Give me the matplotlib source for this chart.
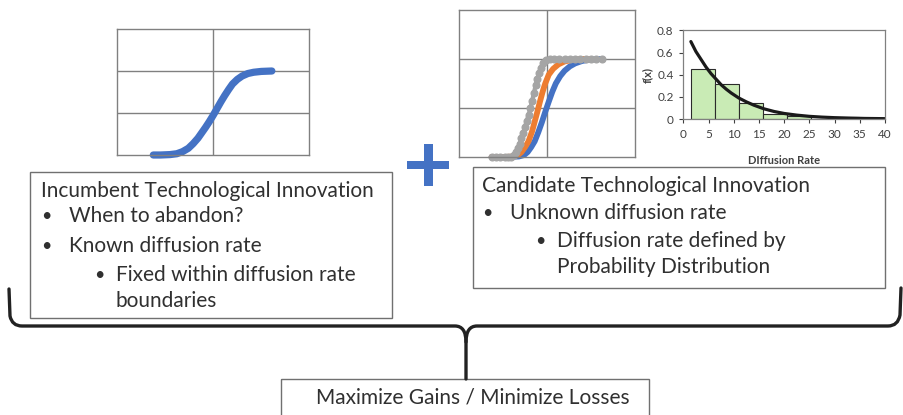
import matplotlib
matplotlib.use("Agg")
import matplotlib.pyplot as plt
from matplotlib.patches import Rectangle, PathPatch
from matplotlib.path import Path

plt.rcParams['font.family'] = ['Lato', 'DejaVu Sans']

W, H = 904, 415

# Incumbent S-curve (left chart), axis units: x 0..2, y 0..3
inc_x = [0.375, 0.45, 0.55, 0.62, 0.68, 0.74, 0.79, 0.84, 0.88, 0.92, 0.96, 1.00,
         1.04, 1.08, 1.12, 1.16, 1.20, 1.25, 1.30, 1.36, 1.42, 1.50, 1.61]
inc_y = [0.0, 0.0, 0.01, 0.03, 0.08, 0.16, 0.27, 0.40, 0.53, 0.66, 0.80, 0.95,
         1.11, 1.27, 1.42, 1.56, 1.69, 1.80, 1.88, 1.94, 1.97, 1.99, 2.0]

# Candidate S-curves (middle chart)
blue_x = [0.37, 0.55, 0.68, 0.74, 0.78, 0.82, 0.86, 0.90, 0.94, 0.98, 1.02, 1.06,
          1.10, 1.15, 1.20, 1.26, 1.32, 1.40, 1.50, 1.62]
blue_y = [0.0, 0.0, 0.01, 0.04, 0.10, 0.20, 0.32, 0.50, 0.70, 0.92, 1.13, 1.33,
          1.50, 1.65, 1.76, 1.85, 1.91, 1.96, 1.99, 2.0]
orange_x = [0.37, 0.52, 0.62, 0.67, 0.71, 0.75, 0.79, 0.83, 0.86, 0.89, 0.92, 0.95,
            0.98, 1.02, 1.07, 1.13, 1.20, 1.28, 1.38, 1.49]
orange_y = [0.0, 0.0, 0.01, 0.04, 0.10, 0.20, 0.32, 0.52, 0.72, 0.92, 1.13, 1.33,
            1.50, 1.68, 1.80, 1.89, 1.95, 1.98, 2.0, 2.0]
gray_x = [0.37, 0.42, 0.47, 0.52, 0.56, 0.59, 0.62, 0.65, 0.67, 0.69, 0.71, 0.73, 0.75,
          0.77, 0.79, 0.81, 0.83, 0.85, 0.87, 0.89, 0.91, 0.93, 0.96, 0.99, 1.03, 1.08,
          1.14, 1.20, 1.26, 1.32, 1.38, 1.44, 1.50, 1.56, 1.62]
gray_y = [0.0, 0.0, 0.0, 0.0, 0.0, 0.01, 0.04, 0.10, 0.18, 0.27, 0.38, 0.50, 0.62,
          0.74, 0.86, 0.99, 1.14, 1.30, 1.46, 1.60, 1.72, 1.82, 1.92, 1.97, 2.0, 2.0,
          2.0, 2.0, 2.0, 2.0, 2.0, 2.0, 2.0, 2.0, 2.0]

# Histogram of diffusion rates
bin_edges = [1.5, 6.3, 11.0, 15.8, 20.5, 25.3, 30.0, 34.8]
bin_heights = [0.453, 0.317, 0.142, 0.048, 0.028, 0.004, 0.015]
pdf_x = [1.5, 2.5, 3.5, 4.5, 5.5, 6.5, 7.5, 8.5, 9.5, 11, 12.5, 14, 16, 18, 20, 22.5,
         25, 27.5, 30, 33, 36, 40]
pdf_y = [0.70, 0.61, 0.54, 0.47, 0.41, 0.36, 0.31, 0.27, 0.235, 0.19, 0.155, 0.125,
         0.092, 0.068, 0.05, 0.035, 0.024, 0.017, 0.012, 0.008, 0.005, 0.003]
hist_xticks = [0, 5, 10, 15, 20, 25, 30, 35, 40]
hist_yticks = [0, 0.2, 0.4, 0.6, 0.8]

box1_title = "Incumbent Technological Innovation"
box1_items = [(1, "When to abandon?"), (1, "Known diffusion rate"),
              (2, "Fixed within diffusion rate"), (0, "boundaries")]
box2_title = "Candidate Technological Innovation"
box2_items = [(1, "Unknown diffusion rate"), (2, "Diffusion rate defined by"),
              (0, "Probability Distribution")]
result_text = "Maximize Gains / Minimize Losses"

BLUE = "#4472C4"
ORANGE = "#ED7D31"
GRAY = "#A5A5A5"
GRID = "#808080"
TXT = "#303030"


def px_rect(x0, y0, x1, y1):
    return [x0 / W, 1 - y1 / H, (x1 - x0) / W, (y1 - y0) / H]


fig = plt.figure(figsize=(W / 100, H / 100), dpi=100)

# overlay in pixel coordinates for boxes, brace and plus sign
ov = fig.add_axes([0, 0, 1, 1])
ov.set_xlim(0, W)
ov.set_ylim(H, 0)
ov.axis("off")


def s_curve_axes(rect):
    ax = fig.add_axes(rect)
    ax.set_xlim(0, 2)
    ax.set_ylim(0, 3)
    ax.set_xticks([1])
    ax.set_yticks([1, 2])
    ax.tick_params(length=0, labelbottom=False, labelleft=False)
    ax.grid(True, color=GRID, lw=1.0)
    for s in ax.spines.values():
        s.set_color(GRID)
        s.set_linewidth(1.0)
    return ax


ax1 = s_curve_axes(px_rect(117.3, 29, 309.3, 155))
ax1.plot(inc_x, inc_y, color=BLUE, lw=5.2, solid_capstyle="round",
         solid_joinstyle="round", clip_on=False)

ax2 = s_curve_axes(px_rect(459, 10, 635, 157))
ax2.plot(blue_x, blue_y, color=BLUE, lw=4.2, solid_capstyle="round",
         solid_joinstyle="round", clip_on=False)
ax2.plot(orange_x, orange_y, color=ORANGE, lw=4.2, solid_capstyle="round",
         solid_joinstyle="round", clip_on=False)
ax2.plot(gray_x, gray_y, color=GRAY, lw=3, marker="o", ms=4.8, mec=GRAY,
         solid_capstyle="round", clip_on=False)

ax3 = fig.add_axes(px_rect(683.3, 30.5, 885, 119))
widths = [b - a for a, b in zip(bin_edges[:-1], bin_edges[1:])]
ax3.bar(bin_edges[:-1], bin_heights, width=widths, align="edge",
        color="#C9EBB5", edgecolor="#2b2b2b", lw=0.8)
ax3.plot(pdf_x, pdf_y, color="#1a1a1a", lw=2.3, solid_capstyle="round")
ax3.set_xlim(0, 40)
ax3.set_ylim(0, 0.8)
ax3.set_xticks(hist_xticks)
ax3.set_yticks(hist_yticks)
ax3.set_yticklabels(["0", "0.2", "0.4", "0.6", "0.8"])
ax3.tick_params(labelsize=8.5, colors="#404040", length=3, width=0.8, pad=4)
for s in ax3.spines.values():
    s.set_color(GRID)
    s.set_linewidth(0.9)
ax3.set_ylabel("f(x)", fontsize=8, fontweight="bold", color="#404040", labelpad=3)
ax3.set_xlabel("DIffusion Rate", fontsize=8, fontweight="bold", color="#404040",
               labelpad=11)

# text boxes
ov.add_patch(Rectangle((30, 172), 362, 146, fill=False, ec="#707070", lw=1.0))
ov.add_patch(Rectangle((472.7, 166.7), 412.3, 121.3, fill=False, ec="#707070", lw=1.0))
ov.add_patch(Rectangle((281.5, 379), 368, 60, fill=False, ec="#707070", lw=1.0,
                       clip_on=True))

FS = 15


def write_box(x0, title, items, ys):
    ov.text(x0, ys[0], title, fontsize=FS, color=TXT, va="center", ha="left")
    for (lvl, txt), y in zip(items, ys[1:]):
        if lvl == 1:
            ov.text(x0 + 0, y, "\u2022", fontsize=FS - 2, color=TXT, va="center")
        elif lvl == 2:
            ov.text(x0 + 53, y, "\u2022", fontsize=FS - 2, color=TXT, va="center")
        tx = x0 + 28 if lvl == 1 else x0 + 75
        ov.text(tx, y, txt, fontsize=FS, color=TXT, va="center", ha="left")


write_box(40.7, box1_title, box1_items, [190.7, 215.7, 245.5, 274.5, 300.5])
write_box(481.7, box2_title, box2_items, [186, 213.3, 240.5, 266.5])

ov.text(472.5, 397, result_text, fontsize=15, color=TXT, va="center", ha="center")

# plus sign
ov.add_patch(Rectangle((407, 160.7), 42, 8.8, color=BLUE, lw=0))
ov.add_patch(Rectangle((424, 144), 9, 42, color=BLUE, lw=0))

# curly brace
M, L, C3 = Path.MOVETO, Path.LINETO, Path.CURVE3
left = Path([(9, 289), (10, 316), (12, 326), (22, 326), (455, 326), (466, 326),
             (466, 342), (466, 379)],
            [M, L, C3, C3, L, C3, C3, L])
right = Path([(901, 288), (900, 315), (898, 326), (888, 326), (477, 326), (466, 326),
              (466, 342)],
             [M, L, C3, C3, L, C3, C3])
for p in (left, right):
    ov.add_patch(PathPatch(p, fill=False, ec="#222222", lw=2.4, capstyle="round",
                           joinstyle="round"))

fig.savefig("out.png", dpi=100)
